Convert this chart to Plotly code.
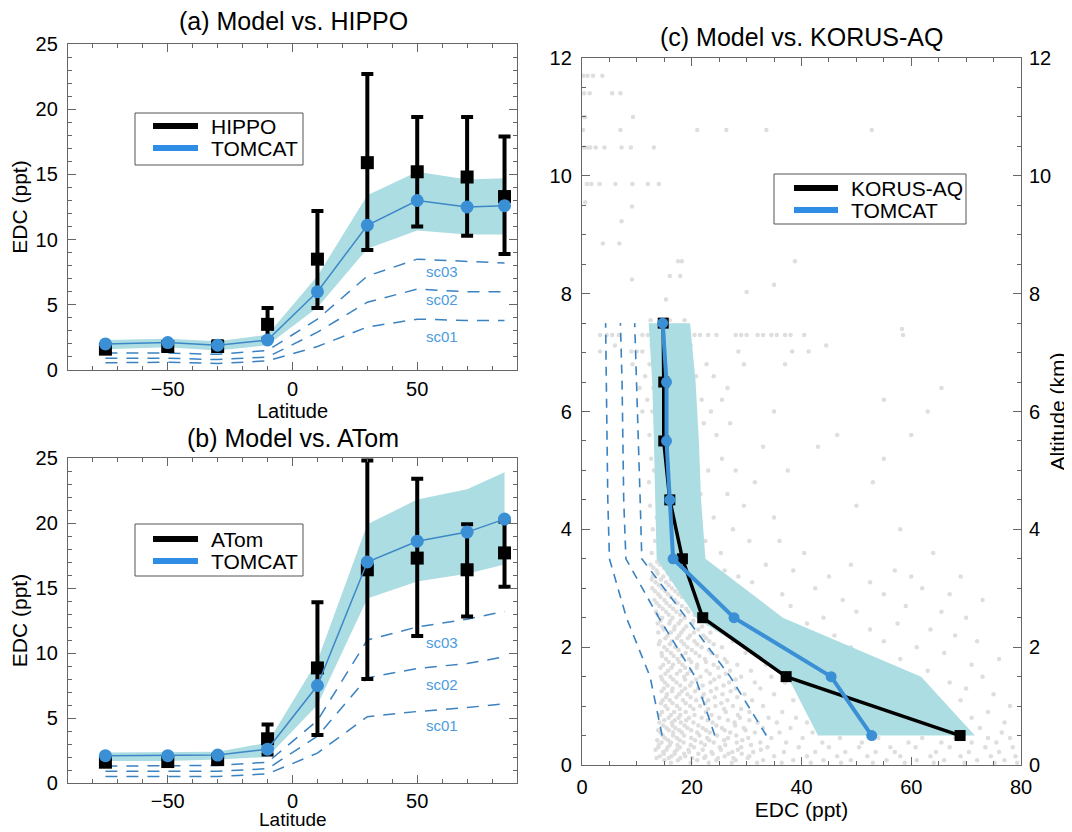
import plotly.graph_objects as go

# ---------------- Panel (a): HIPPO ----------------
lat = [-75, -50, -30, -10, 10, 30, 50, 70, 85]
hippo = [1.6, 1.8, 1.8, 3.5, 8.5, 15.9, 15.2, 14.8, 13.3]
hippo_top = [1.9, 2.0, 2.2, 4.75, 12.2, 22.7, 19.4, 19.4, 17.9]
hippo_bot = [1.3, 1.5, 1.5, 2.4, 4.75, 9.2, 11.0, 10.3, 8.9]
tomcat_a = [2.0, 2.1, 1.9, 2.3, 6.0, 11.1, 13.0, 12.5, 12.6]
band_a_lo = [1.6, 1.75, 1.5, 1.9, 4.8, 9.3, 10.7, 10.4, 10.4]
band_a_hi = [2.3, 2.4, 2.2, 2.7, 7.2, 13.4, 15.2, 14.6, 14.7]
sc03_a = [1.3, 1.3, 1.2, 1.5, 3.9, 7.2, 8.5, 8.3, 8.2]
sc02_a = [0.9, 0.9, 0.8, 1.0, 2.9, 5.2, 6.2, 6.0, 6.0]
sc01_a = [0.55, 0.6, 0.5, 0.7, 1.8, 3.3, 3.9, 3.8, 3.8]

# ---------------- Panel (b): ATom ----------------
atom = [1.6, 1.65, 1.8, 3.4, 8.85, 16.4, 17.3, 16.4, 17.7]
atom_top = [1.9, 1.9, 2.1, 4.5, 13.9, 24.8, 23.4, 19.9, 20.1]
atom_bot = [1.3, 1.35, 1.5, 2.2, 3.7, 8.0, 11.3, 12.8, 15.1]
tomcat_b = [2.1, 2.1, 2.15, 2.6, 7.5, 17.0, 18.6, 19.3, 20.3]
band_b_lo = [1.7, 1.7, 1.8, 2.0, 6.0, 14.2, 15.5, 16.1, 16.8]
band_b_hi = [2.35, 2.35, 2.4, 3.1, 9.4, 19.9, 21.8, 22.6, 23.9]
sc03_b = [1.3, 1.3, 1.35, 1.6, 4.8, 11.0, 12.0, 12.6, 13.2]
sc02_b = [0.9, 0.9, 0.9, 1.1, 3.6, 8.1, 8.8, 9.2, 9.7]
sc01_b = [0.5, 0.5, 0.5, 0.7, 2.3, 5.1, 5.5, 5.8, 6.1]

sc_names = ["sc03", "sc02", "sc01"]
sc_label_lat = 60
sc_label_a = [7.55, 5.4, 2.6]
sc_label_b = [10.8, 7.6, 4.4]

# ---------------- Panel (c): KORUS-AQ ----------------
alt = [0.5, 1.5, 2.5, 3.5, 4.5, 5.5, 6.5, 7.5]
korus = [68.9, 37.2, 22.0, 18.3, 16.0, 14.9, 14.9, 14.8]
tomcat_c = [52.8, 45.4, 27.7, 16.6, 16.0, 15.4, 15.4, 14.7]
band_c_lo = [43.0, 37.5, 20.8, 13.6, 13.4, 13.1, 12.8, 12.15]
band_c_hi = [71.6, 61.8, 36.6, 22.5, 21.7, 21.3, 20.7, 19.7]
sc01_c = [14.6, 12.4, 8.1, 5.0, 4.7, 4.6, 4.5, 4.3]
sc02_c = [24.2, 20.6, 14.0, 8.0, 7.6, 7.5, 7.3, 7.0]
sc03_c = [33.6, 27.0, 19.0, 10.9, 10.6, 10.3, 10.0, 9.6]

korus_obs_rows = [
    (0.04, [16.2, 19.8, 23.1, 27.3, 31.9, 36.4, 41.7, 47.2, 53.0, 58.8, 64.1, 69.7, 75.2, 79.3]),
    (0.08, [15.0, 17.5, 21.0, 24.5, 28.0, 33.0, 38.5, 44.0, 49.0, 55.5, 61.0, 66.0, 72.0, 77.0]),
    (0.12, [13.6, 15.8, 17.9, 20.1, 22.3, 24.8, 27.6, 30.2]),
    (0.15, [14.2, 16.3, 18.8, 22.5, 26.0, 30.5, 35.0, 41.0, 46.5, 52.0, 58.0, 63.5, 69.0, 74.5, 79.0]),
    (0.19, [14.9, 16.9, 18.6, 21.2, 23.8, 26.7, 29.1]),
    (0.22, [14.8, 16.9, 19.5, 23.6, 27.4, 31.2, 36.8, 42.5, 48.0, 53.5, 57.0, 64.5, 70.5, 76.0]),
    (0.26, [13.4, 15.4, 17.3, 19.4, 22.0, 25.3, 28.4, 32.6]),
    (0.30, [13.9, 15.6, 17.8, 20.4, 25.1, 29.0, 33.8, 39.5, 45.0, 50.5, 56.2, 60.8, 67.0, 73.5, 78.5]),
    (0.34, [14.0, 16.0, 17.4, 19.8, 22.4, 26.1, 30.8]),
    (0.38, [14.5, 16.2, 18.5, 21.7, 24.0, 28.2, 32.5, 37.2, 43.8, 51.0, 59.5, 65.5, 71.0, 75.5]),
    (0.42, [13.7, 15.7, 17.8, 20.6, 23.2, 25.9, 29.2]),
    (0.46, [15.1, 17.3, 19.9, 22.8, 26.6, 30.3, 34.5, 40.2, 47.0, 54.0, 62.0, 68.0, 74.0, 78.0]),
    (0.50, [14.7, 16.6, 18.6, 21.4, 24.6, 28.1]),
    (0.55, [14.3, 16.6, 18.2, 21.0, 23.3, 27.0, 31.5, 36.0, 42.0, 49.5, 58.0, 70.5, 76.5]),
    (0.59, [13.9, 15.8, 17.7, 19.9, 22.6, 26.0, 29.8]),
    (0.63, [15.4, 17.0, 19.2, 22.0, 25.5, 29.5, 33.0, 38.0, 45.5, 64.0, 72.5]),
    (0.67, [14.8, 16.5, 18.7, 21.2, 24.5, 27.9]),
    (0.72, [14.1, 16.4, 18.0, 20.3, 23.8, 27.8, 32.0, 35.5, 41.0, 52.0, 67.5, 77.0]),
    (0.76, [15.0, 16.9, 19.0, 22.9, 26.6, 30.5]),
    (0.80, [15.8, 17.6, 19.5, 21.8, 25.0, 28.8, 34.0, 39.0, 47.5, 60.0, 71.0]),
    (0.85, [14.2, 16.2, 17.9, 20.5, 23.6, 28.4]),
    (0.90, [14.6, 16.8, 18.9, 22.6, 26.2, 30.5, 36.5, 44.0, 56.0, 74.0]),
    (0.95, [15.6, 17.8, 20.3, 23.0, 25.9, 29.0]),
    (1.00, [15.2, 17.3, 19.7, 21.5, 24.3, 27.5, 33.0, 42.0, 50.0, 65.0, 78.0]),
    (1.05, [14.4, 16.5, 18.9, 22.4, 25.4]),
    (1.10, [14.7, 16.0, 18.4, 20.8, 23.0, 26.5, 31.0, 38.5, 58.0, 69.0]),
    (1.15, [15.3, 17.2, 19.8, 21.9, 24.2, 28.3]),
    (1.20, [15.5, 17.7, 19.2, 22.2, 25.6, 29.6, 35.0, 46.0, 62.0, 75.0]),
    (1.25, [14.5, 16.4, 18.2, 20.6, 23.5, 27.1]),
    (1.30, [14.9, 16.5, 18.8, 21.2, 24.5, 28.0, 32.5, 41.5, 53.0, 70.0]),
    (1.35, [15.6, 17.9, 19.7, 22.0, 25.8]),
    (1.40, [15.1, 17.2, 20.0, 23.4, 26.8, 31.5, 37.0, 57.0, 67.0]),
    (1.45, [14.6, 16.6, 18.8, 20.8, 24.1, 28.0]),
    (1.50, [14.4, 16.1, 18.6, 21.6, 25.0, 29.0, 34.5, 44.5, 73.0]),
    (1.55, [15.2, 17.3, 19.2, 23.3, 26.2]),
    (1.60, [15.7, 17.9, 19.8, 22.7, 27.0, 30.8, 39.0, 52.0, 63.0]),
    (1.65, [14.3, 16.3, 18.8, 20.9, 24.8]),
    (1.70, [14.8, 16.6, 18.3, 21.0, 24.0, 28.3, 33.5, 47.0, 71.0]),
    (1.75, [15.8, 17.7, 19.9, 22.6, 26.4]),
    (1.80, [15.3, 17.4, 19.5, 22.4, 26.0, 36.0, 58.0, 76.0]),
    (1.85, [14.6, 16.7, 18.2, 21.4, 24.6]),
    (1.90, [14.5, 16.2, 18.9, 20.7, 23.6, 29.8, 42.0, 66.0]),
    (1.95, [15.5, 17.6, 20.0, 23.1]),
    (2.00, [15.0, 17.0, 19.2, 21.8, 25.5, 32.0, 49.0, 61.0]),
    (2.05, [14.0, 16.0, 18.6, 21.0, 24.0]),
    (2.10, [14.2, 16.4, 18.1, 20.5, 23.2, 27.5, 38.0, 55.0, 72.0]),
    (2.15, [15.2, 17.3, 19.3, 22.6]),
    (2.20, [15.6, 17.7, 19.7, 22.1, 26.7, 35.0, 46.0, 68.0]),
    (2.25, [13.9, 16.2, 18.1, 20.4, 23.4]),
    (2.30, [14.9, 16.8, 18.5, 21.2, 24.8, 30.0, 52.5, 63.5]),
    (2.35, [14.6, 16.9, 19.0, 21.9]),
    (2.40, [13.8, 15.9, 17.6, 20.1, 23.0, 28.6, 41.0, 57.5]),
    (2.45, [14.3, 16.1, 18.0, 20.3]),
    (2.50, [14.6, 16.5, 18.7, 21.6, 26.0, 44.0, 70.0]),
    (2.55, [13.8, 15.8, 17.9, 20.5]),
    (2.60, [13.5, 15.3, 17.2, 19.4, 22.8, 33.5, 50.0, 65.5]),
    (2.65, [14.7, 16.6, 19.0]),
    (2.70, [14.1, 16.0, 18.2, 20.6, 25.3, 38.0, 59.0]),
    (2.75, [13.6, 15.4, 17.4, 19.8]),
    (2.80, [13.2, 15.0, 16.9, 19.0, 23.5, 29.0, 47.5, 73.0]),
    (2.85, [14.3, 16.2, 18.2]),
    (2.90, [13.9, 15.7, 17.6, 21.3, 36.5, 55.0, 67.0]),
    (2.95, [13.3, 15.2, 17.0, 19.4]),
    (3.00, [12.8, 14.6, 16.4, 18.5, 24.5, 42.5, 62.0]),
    (3.05, [14.0, 15.8, 17.3]),
    (3.10, [13.4, 15.3, 17.8, 22.0, 31.0, 52.5]),
    (3.15, [12.7, 14.4, 16.2, 18.7]),
    (3.20, [12.9, 14.8, 16.6, 20.2, 28.5, 45.0, 60.0, 69.0]),
    (3.25, [13.8, 15.7, 17.6]),
    (3.30, [13.6, 15.5, 18.4, 26.0, 38.5, 57.0]),
    (3.35, [13.0, 14.9, 16.6]),
    (3.40, [12.5, 14.2, 17.0, 21.5, 33.5, 49.0]),
    (3.45, [13.7, 15.6]),
    (3.60, [12.7, 15.0, 19.0, 25.3, 40.5, 64.0]),
    (3.80, [13.3, 16.5, 22.5, 30.5, 36.0]),
    (4.00, [12.9, 14.7, 18.0, 27.5, 58.0]),
    (4.20, [13.6, 16.0, 20.5, 24.0, 35.0]),
    (4.40, [12.4, 15.2, 17.5, 29.5, 50.0]),
    (4.60, [13.8, 16.8, 21.6, 26.5]),
    (4.80, [12.2, 14.5, 19.8, 31.5, 53.0]),
    (5.00, [13.1, 15.9, 23.0, 28.0, 37.5]),
    (5.20, [12.6, 17.0, 20.0, 25.5, 55.0]),
    (5.40, [13.9, 15.4, 21.0, 33.0, 43.0]),
    (5.60, [12.3, 16.3, 19.0, 24.5, 46.5, 60.0]),
    (5.80, [13.5, 18.5, 22.2, 27.0]),
    (6.00, [11.0, 12.8, 15.6, 20.6, 23.5, 35.0, 63.0]),
    (6.20, [11.9, 14.3, 17.4, 21.8, 25.5, 55.0]),
    (6.40, [10.5, 13.0, 16.0, 19.5, 26.5, 65.5]),
    (6.60, [11.5, 14.8, 18.0, 20.8, 24.0]),
    (6.80, [9.2, 12.3, 13.7, 16.5, 22.7, 29.5, 37.0]),
    (7.02, [3.3, 9.0, 10.0, 11.0, 14.0, 18.5, 28.5, 38.3, 41.3]),
    (7.12, [6.0, 12.7, 19.8, 44.5]),
    (7.30, [3.3, 4.5, 5.5, 6.7, 11.0, 12.0, 13.2, 18.0, 19.0, 20.5, 21.5, 23.0, 24.5,
            28.0, 29.0, 30.0, 32.0, 33.0, 34.5, 35.5, 37.0, 38.0, 40.5, 58.5]),
    (7.40, [58.3]),
    (7.55, [12.5, 16.0, 18.7]),
    (7.90, [15.3]),
    (8.03, [30.0]),
    (8.15, [35.0]),
    (8.24, [9.1]),
    (8.30, [16.0, 17.9]),
    (8.55, [17.5, 18.2, 38.8]),
    (8.85, [3.8, 6.8]),
    (9.23, [7.2]),
    (9.48, [9.1]),
    (9.55, [0.6]),
    (9.86, [0.9, 1.7, 3.2, 6.1, 9.2, 12.0, 14.0]),
    (10.48, [0.4, 1.0, 1.5, 2.5, 4.1, 7.2, 8.9, 13.1]),
    (10.78, [0.2, 7.0, 21.0, 26.3, 33.6, 52.8]),
    (11.00, [0.4, 0.6, 9.3]),
    (11.40, [0.4, 1.4, 5.5, 7.0]),
    (11.70, [0.25, 1.0, 2.0, 3.7]),
]
obs_alt = [a for a, row in korus_obs_rows for _ in row]
obs_edc = [v for _, row in korus_obs_rows for v in row]

# ---------------- styling constants ----------------
FONT = "Liberation Sans, Arial, sans-serif"
BLACK = "#000000"
BLUE_PT = "#3a8fd5"
BLUE_LN = "#3d87c8"
BLUE_LEG = "#2f8de6"
BAND = "#acdde2"
DASH = "#3b82c0"
GREY = "#dedede"
AXIS = "#666666"
W, H = 1072, 832
OFF = 8  # the page body margin shifts the figure by this many pixels


def PX(x):
    """page pixel (as seen in the window) -> paper x"""
    return (x - OFF) / W


def PY(y):
    """page pixel (as seen in the window) -> paper y"""
    return 1 - (y - OFF) / H


fig = go.Figure()


def latitude_panel(xa, ya, obs, top, bot, model, lo, hi, scs, labels, obs_name):
    fig.add_trace(go.Scatter(x=lat + lat[::-1], y=hi + lo[::-1], fill="toself",
                             fillcolor=BAND, line=dict(width=0), mode="lines",
                             hoverinfo="skip", showlegend=False, xaxis=xa, yaxis=ya))
    for sc, nm in zip(scs, sc_names):
        fig.add_trace(go.Scatter(x=lat, y=sc, mode="lines", name=nm,
                                 line=dict(color=DASH, width=1.5, dash="12px,9px"),
                                 showlegend=False, xaxis=xa, yaxis=ya))
    fig.add_trace(go.Scatter(
        x=lat, y=obs, mode="markers", name=obs_name,
        marker=dict(symbol="square", size=13, color=BLACK),
        error_y=dict(type="data", symmetric=False,
                     array=[t - o for t, o in zip(top, obs)],
                     arrayminus=[o - b for o, b in zip(obs, bot)],
                     color=BLACK, thickness=4, width=6),
        showlegend=False, xaxis=xa, yaxis=ya))
    fig.add_trace(go.Scatter(x=lat, y=model, mode="lines+markers", name="TOMCAT",
                             line=dict(color=BLUE_LN, width=1.5),
                             marker=dict(size=13, color=BLUE_PT),
                             showlegend=False, xaxis=xa, yaxis=ya))
    for name, yv in zip(sc_names, labels):
        fig.add_annotation(x=sc_label_lat, y=yv, xref=xa, yref=ya, text=name,
                           showarrow=False, font=dict(size=15, color="#4a9be0", family=FONT))


latitude_panel("x", "y", hippo, hippo_top, hippo_bot, tomcat_a, band_a_lo, band_a_hi,
               [sc03_a, sc02_a, sc01_a], sc_label_a, "HIPPO")
latitude_panel("x2", "y2", atom, atom_top, atom_bot, tomcat_b, band_b_lo, band_b_hi,
               [sc03_b, sc02_b, sc01_b], sc_label_b, "ATom")

# ---- panel (c) ----
fig.add_trace(go.Scatter(x=obs_edc, y=obs_alt, mode="markers", name="KORUS-AQ obs",
                         marker=dict(size=4.5, color=GREY), showlegend=False,
                         xaxis="x3", yaxis="y3"))
fig.add_trace(go.Scatter(x=band_c_hi + band_c_lo[::-1], y=alt + alt[::-1], fill="toself",
                         fillcolor=BAND, line=dict(width=0), mode="lines",
                         hoverinfo="skip", showlegend=False, xaxis="x3", yaxis="y3"))
for sc in [sc01_c, sc02_c, sc03_c]:
    fig.add_trace(go.Scatter(x=sc, y=alt, mode="lines",
                             line=dict(color=DASH, width=1.6, dash="9px,7px"),
                             showlegend=False, xaxis="x3", yaxis="y3"))
fig.add_trace(go.Scatter(x=korus, y=alt, mode="lines+markers", name="KORUS-AQ",
                         line=dict(color=BLACK, width=3.5),
                         marker=dict(symbol="square", size=11, color=BLACK),
                         showlegend=False, xaxis="x3", yaxis="y3"))
fig.add_trace(go.Scatter(x=tomcat_c, y=alt, mode="lines+markers", name="TOMCAT",
                         line=dict(color=BLUE_PT, width=4),
                         marker=dict(size=11, color=BLUE_PT),
                         showlegend=False, xaxis="x3", yaxis="y3"))
# right-hand altitude axis
fig.add_trace(go.Scatter(x=[None], y=[None], mode="markers", showlegend=False,
                         xaxis="x3", yaxis="y4"))


def xd(l, r):
    return [PX(l), PX(r)]


def yd(t, b):
    return [PY(b), PY(t)]


tickfont = dict(size=20, color="black", family=FONT)
titlefont = dict(size=21, color="black", family=FONT)
latfont = dict(size=20, color="black", family=FONT)


def ax(**kw):
    base = dict(showline=True, linecolor=AXIS, linewidth=1.3, mirror="ticks",
                ticks="inside", ticklen=8, tickcolor=AXIS, tickwidth=1.2,
                showgrid=False, zeroline=False, tickfont=tickfont, automargin=False)
    base.update(kw)
    return base


minor_lat = dict(dtick=10, ticklen=4, ticks="inside", tickcolor=AXIS, showgrid=False)
minor_edc = dict(dtick=1, ticklen=4, ticks="inside", tickcolor=AXIS, showgrid=False)

# ---- hand-drawn legends (box, line samples, labels) in pixel positions ----
shapes = []
annotations = []


def px_legend(box, entries):
    l, t, r, b = box
    shapes.append(dict(type="rect", xref="paper", yref="paper",
                       x0=PX(l), x1=PX(r), y0=PY(b), y1=PY(t),
                       line=dict(color="#555", width=1), fillcolor="white", layer="above"))
    for (lx0, lx1, ly, tx, label, col) in entries:
        shapes.append(dict(type="line", xref="paper", yref="paper",
                           x0=PX(lx0), x1=PX(lx1), y0=PY(ly), y1=PY(ly),
                           line=dict(color=col, width=6), layer="above"))
        annotations.append(dict(text=label, x=PX(tx), y=PY(ly), xref="paper", yref="paper",
                                xanchor="left", yanchor="middle", showarrow=False,
                                font=dict(size=21, family=FONT, color="black")))


px_legend((135, 113, 303, 165), [(153, 198, 126, 209, "HIPPO", BLACK),
                                 (153, 198, 148, 209, "TOMCAT", BLUE_LEG)])
px_legend((135, 524, 303, 576), [(153, 198, 539, 209, "ATom", BLACK),
                                 (153, 198, 561, 209, "TOMCAT", BLUE_LEG)])
px_legend((774, 174, 966, 224), [(794, 838, 188, 849, "KORUS-AQ", BLACK),
                                 (794, 838, 210, 849, "TOMCAT", BLUE_LEG)])

for text, cx, cy in [("(a) Model vs. HIPPO", 293, 21), ("(b) Model vs. ATom", 293, 438),
                     ("(c) Model vs. KORUS-AQ", 801, 37)]:
    annotations.append(dict(text=text, x=PX(cx), y=PY(cy), xref="paper", yref="paper",
                            xanchor="center", yanchor="middle", showarrow=False,
                            font=dict(size=25, family=FONT, color="black")))

# x-axis title of panel (b), placed between the tick labels and the window's bottom edge
annotations.append(dict(text="Latitude", x=PX(293), y=PY(819), xref="paper", yref="paper",
                        xanchor="center", yanchor="middle", showarrow=False,
                        font=dict(size=19, color="black", family=FONT)))

fig.update_layout(
    width=W, height=H, margin=dict(l=0, r=0, t=0, b=0, autoexpand=False),
    paper_bgcolor="white", plot_bgcolor="white",
    font=dict(family=FONT, color="black"),
    xaxis=ax(domain=xd(68, 517), range=[-90, 90], tick0=0, dtick=50, minor=minor_lat,
             ticklabelstandoff=1,
             title=dict(text="Latitude", font=latfont, standoff=0), anchor="y"),
    yaxis=ax(domain=yd(44, 370), range=[0, 25], dtick=5, minor=minor_edc,
             ticklabelstandoff=5,
             title=dict(text="EDC (ppt)", font=titlefont, standoff=12), anchor="x"),
    xaxis2=ax(domain=xd(68, 517), range=[-90, 90], tick0=0, dtick=50, minor=minor_lat,
              ticklabelstandoff=0, anchor="y2"),
    yaxis2=ax(domain=yd(458, 783), range=[0, 25], dtick=5, minor=minor_edc,
              ticklabelstandoff=5,
              title=dict(text="EDC (ppt)", font=titlefont, standoff=12), anchor="x2"),
    xaxis3=ax(domain=xd(582, 1021), range=[0, 80], dtick=20, ticklabelstandoff=4,
              minor=dict(dtick=5, ticklen=4, ticks="inside", tickcolor=AXIS, showgrid=False),
              title=dict(text="EDC (ppt)", font=titlefont, standoff=2), anchor="y3"),
    yaxis3=ax(domain=yd(58, 765), range=[0, 12], dtick=2, ticklabelstandoff=5,
              minor=dict(dtick=0.5, ticklen=4, ticks="inside", tickcolor=AXIS, showgrid=False),
              anchor="x3"),
    yaxis4=dict(overlaying="y3", side="right", range=[0, 12], dtick=2, anchor="x3",
                showline=False, ticks="", showgrid=False, zeroline=False, tickfont=tickfont,
                ticklabelstandoff=7, automargin=False,
                title=dict(text="Altitude (km)", font=titlefont, standoff=0)),
    shapes=shapes,
    annotations=list(fig.layout.annotations) + annotations,
)

fig.write_html("out.html")
